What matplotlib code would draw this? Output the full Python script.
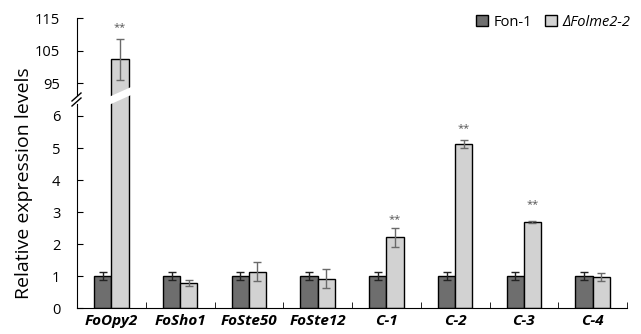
import numpy as np
import matplotlib.pyplot as plt
from matplotlib.patches import Polygon
from matplotlib.lines import Line2D

plt.rcParams['font.family'] = ['Open Sans', 'DejaVu Sans']

# data
genes = ['FoOpy2', 'FoSho1', 'FoSte50', 'FoSte12', 'C-1', 'C-2', 'C-3', 'C-4']
wt = [1.0, 1.0, 1.0, 1.0, 1.0, 1.0, 1.0, 1.0]
wt_err = [0.13, 0.13, 0.13, 0.13, 0.13, 0.13, 0.13, 0.13]
mut = [102.3, 0.78, 1.14, 0.92, 2.21, 5.12, 2.69, 0.96]
mut_err = [6.2, 0.10, 0.29, 0.29, 0.29, 0.12, 0.02, 0.12]
signif = ['**', '', '', '', '**', '**', '**', '']
star_y = [112.0, 0, 0, 0, 2.77, 5.62, 3.22, 0]

low_top = 6.5
up_lim = (89.8, 115)

fig = plt.figure(figsize=(6.41, 3.34), dpi=100)
L, R = 77 / 641, 627 / 641
yb, ybrk, yt = 1 - 308 / 334, 1 - 100 / 334, 1 - 18 / 334
ax_lo = fig.add_axes([L, yb, R - L, ybrk - yb])
ax_up = fig.add_axes([L, ybrk, R - L, yt - ybrk])

x = np.arange(len(genes))
w = 0.25
c_wt, c_mut = '#6e6e6e', '#d2d2d2'

for ax in (ax_lo, ax_up):
    ax.bar(x - w / 2, wt, w, color=c_wt, edgecolor='black', linewidth=1, label='Fon-1')
    ax.bar(x + w / 2, mut, w, color=c_mut, edgecolor='black', linewidth=1, label='ΔFolme2-2')
    ax.errorbar(x - w / 2, wt, yerr=wt_err, fmt='none', ecolor='#222222', elinewidth=1, capsize=3)
    ax.errorbar(x + w / 2, mut, yerr=mut_err, fmt='none', ecolor='#6a6a6a', elinewidth=1, capsize=3)
    ax.set_xlim(-0.5, len(genes) - 0.5)
    for s in ('top', 'right'):
        ax.spines[s].set_visible(False)
    ax.tick_params(axis='y', direction='in', length=4, labelsize=10.5, pad=12)

ax_lo.set_ylim(0, low_top)
ax_lo.set_yticks(range(0, 7))
ax_lo.spines['left'].set_bounds(0, 6.37)
ax_lo.set_xticks(x)
ax_lo.set_xticklabels(genes, fontsize=11, fontweight='bold', fontstyle='italic')
ax_lo.set_xticks(np.arange(-0.5, len(genes)), minor=True)
ax_lo.tick_params(axis='x', which='major', length=0, pad=4)
ax_lo.tick_params(axis='x', which='minor', direction='in', length=4)

ax_up.set_ylim(*up_lim)
ax_up.set_yticks([95, 105, 115])
ax_up.spines['bottom'].set_visible(False)
ax_up.spines['left'].set_bounds(91.2, 115)
ax_up.set_xticks([])

for i, s in enumerate(signif):
    if not s:
        continue
    ax = ax_up if star_y[i] > low_top else ax_lo
    ax.text(x[i] + w / 2, star_y[i], s, ha='center', va='center', fontsize=8, color='#555555')

# break over the tall bar
bx0 = (x[0] + w / 2 - w / 2 + 0.5) / len(genes)
bx1 = (x[0] + w / 2 + w / 2 + 0.5) / len(genes)
px0 = L + (R - L) * bx0 - 0.004
px1 = L + (R - L) * bx1 + 0.004
slash = Polygon([(px0, 1 - 97 / 334), (px1, 1 - 87 / 334), (px1, 1 - 95 / 334), (px0, 1 - 105 / 334)],
                closed=True, transform=fig.transFigure, facecolor='white', edgecolor='none', zorder=10)
fig.patches.append(slash)

# break marks on the axis
for dy in (0, 5):
    fig.lines.append(Line2D([L - 5 / 641, L + 4 / 641],
                            [1 - (104 + dy - 3) / 334, 1 - (96 + dy - 3) / 334],
                            transform=fig.transFigure, color='black', linewidth=1, zorder=11))
fig.patches.append(Polygon([(L - 3 / 641, 1 - 98.5 / 334), (L + 3 / 641, 1 - 98.5 / 334),
                            (L + 3 / 641, 1 - 102 / 334), (L - 3 / 641, 1 - 102 / 334)],
                           closed=True, transform=fig.transFigure, facecolor='white',
                           edgecolor='none', zorder=10))

fig.text(0.037, 0.452, 'Relative expression levels', rotation=90, ha='center', va='center', fontsize=14)

h, lab = ax_up.get_legend_handles_labels()
leg = ax_up.legend(h[:2], lab[:2], loc='upper right', bbox_to_anchor=(1.03, 1.2), ncol=2, frameon=False,
                   fontsize=10.5, handlelength=0.8, handleheight=0.8, handletextpad=0.4, columnspacing=0.9)
leg.get_texts()[1].set_style('italic')

fig.savefig('out.png', dpi=100)
